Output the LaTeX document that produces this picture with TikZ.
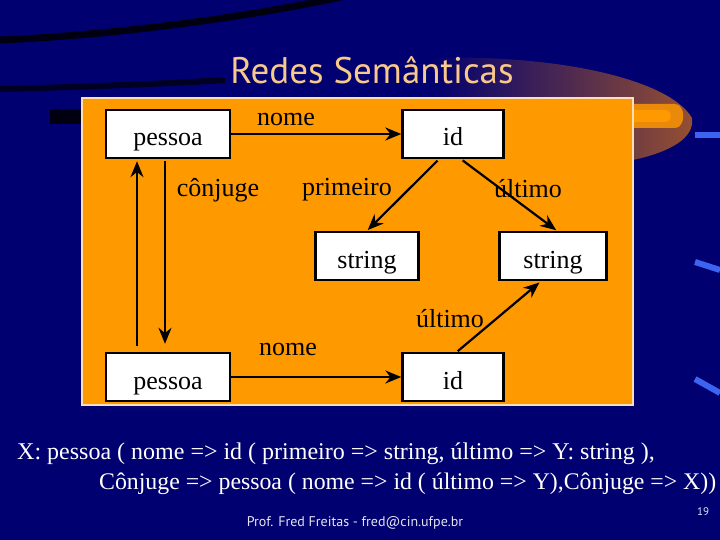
\documentclass[tikz,border=0pt]{standalone}
\usepackage{fontspec}
\setmainfont{Liberation Serif}
\newfontfamily\slidefont{PT Sans}
\usetikzlibrary{arrows.meta}

\definecolor{fundo}{RGB}{0,0,112}
\definecolor{laranja}{RGB}{255,153,0}
\definecolor{titulo}{RGB}{249,201,139}
\definecolor{marrom}{RGB}{150,80,50}
\definecolor{risco}{RGB}{60,100,240}

\begin{document}
\begin{tikzpicture}[x=1pt,y=-1pt, % 1 unidade = 1 pixel, origem no canto superior esquerdo
    caixa/.style={draw=black, line width=2.4pt, fill=white, inner sep=0pt,
        text height=24pt, text depth=0pt,
        minimum height=48pt, font=\fontsize{26}{26}\selectfont},
    rotulo/.style={font=\fontsize{26}{26}\selectfont, inner sep=0pt},
    seta/.style={line width=2.2pt, -{Stealth[length=16pt,width=13pt]}}]

    % Fundo do slide
    \fill[fundo] (0,0) rectangle (720,540);
    \useasboundingbox (0,0) rectangle (720,540);

    % Faixas escuras no alto
    \draw[line width=7pt, black!85!fundo] (0,40) .. controls (120,35) and (260,15) .. (345,-4);
    \draw[line width=6pt, black!70!fundo] (0,89) .. controls (80,87) and (160,84) .. (225,80);
    \fill[black!85!fundo] (50,109) rectangle (82,124);

    % Curva laranja por tras do quadro
    \shade[left color=fundo, right color=marrom]
        (430,98) -- (430,58) .. controls (560,54) and (670,80) .. (692,118)
        .. controls (695,138) and (670,152) .. (633,160) -- (633,98) -- cycle;
    \fill[laranja!80!marrom] (633,104) -- (675,104) .. controls (686,104) and (686,128) .. (675,128) -- (633,128) -- cycle;
    \fill[laranja] (633,110) -- (665,110) .. controls (673,110) and (673,122) .. (665,122) -- (633,122) -- cycle;

    % Riscos azuis a direita
    \draw[line width=6pt, risco] (695,135) -- (720,135);
    \draw[line width=6pt, risco] (695,262) -- (720,270);
    \draw[line width=6pt, risco] (695,379) -- (720,393);

    % Titulo
    \node[text=titulo, font=\slidefont\fontsize{37}{37}\selectfont] (titulo) at (372,70) {Redes Semânticas};

    % Quadro laranja
    \draw[fill=laranja, draw=titulo!60!white, line width=1.5pt] (82,98) rectangle (633,405);

    % Caixas
    \node[caixa, minimum width=124pt] (p1) at (168,134) {pessoa};
    \node[caixa, minimum width=101pt] (id1) at (453,134) {id};
    \node[caixa, minimum width=103pt] (s1) at (367,256) {string};
    \node[caixa, minimum width=107pt] (s2) at (553,256) {string};
    \node[caixa, minimum width=124pt] (p2) at (168,377) {pessoa};
    \node[caixa, minimum width=101pt] (id2) at (453,377) {id};

    % Setas
    \draw[seta] (p1.east) -- (id1.west);
    \draw[seta, shorten <=2pt, shorten >=8pt] ([xshift=-3pt]p1.south) -- ([xshift=-3pt]p2.north);
    \draw[seta, shorten <=6pt, shorten >=2pt] ([xshift=-31pt]p2.north) -- ([xshift=-31pt]p1.south);
    \draw[seta, shorten <=2pt, shorten >=1pt] ([xshift=-14pt]id1.south) -- (s1.north);
    \draw[seta, shorten <=2pt, shorten >=1pt] ([xshift=8pt]id1.south) -- ([xshift=4pt]s2.north);
    \draw[seta] (p2.east) -- (id2.west);
    \draw[seta, shorten <=1pt, shorten >=2pt] ([xshift=4pt]id2.north) -- ([xshift=-12pt]s2.south);

    % Rotulos das setas
    \node[rotulo] (lnome1) at (286,120) {nome};
    \node[rotulo] (lconj) at (218,190) {cônjuge};
    \node[rotulo] (lprim) at (347,190) {primeiro};
    \node[rotulo] (lult1) at (528,189) {último};
    \node[rotulo] (lnome2) at (288,349) {nome};
    \node[rotulo] (lult2) at (450,319) {último};

    % Texto em baixo
    \node[text=white, anchor=west, font=\fontsize{24}{24}\selectfont, inner sep=0pt] (linha1) at (17,454)
        {X: pessoa ( nome => id ( primeiro => string, último => Y: string ),};
    \node[text=white, anchor=west, font=\fontsize{23.8}{24}\selectfont, inner sep=0pt] (linha2) at (99,484)
        {Cônjuge => pessoa ( nome => id ( último => Y),Cônjuge => X))};

    % Rodape
    \node[text=white!90!fundo, font=\slidefont\fontsize{14}{14}\selectfont] (rodape) at (355,523)
        {Prof. Fred Freitas - fred@cin.ufpe.br};
    \node[text=white!90!fundo, font=\slidefont\fontsize{11}{11}\selectfont] (pagina) at (703,512) {19};
\end{tikzpicture}
\end{document}
